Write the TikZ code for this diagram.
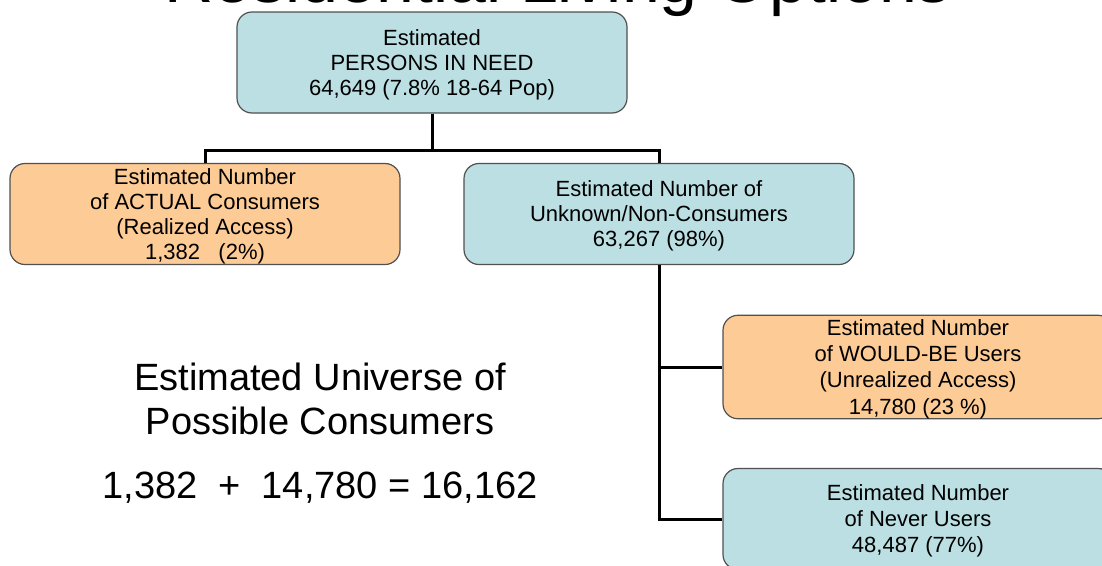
\documentclass[tikz,border=0pt]{standalone}
\usepackage{fontspec}
\setmainfont{Liberation Sans}
\definecolor{teal1}{HTML}{BBDFE2}
\definecolor{orange1}{HTML}{FDCB95}
\definecolor{edge1}{HTML}{505050}
\newcommand{\topstrut}{\rule{0pt}{19.9pt}}
\newcommand{\botstrut}{\rule[-4.7pt]{0pt}{4.7pt}}
\tikzset{
  box/.style={draw=edge1, line width=1.2pt, rounded corners=15pt, minimum width=390pt, minimum height=101pt, align=center, inner sep=0pt, font=\fontsize{22}{25}\selectfont},
  tealbox/.style={box, fill=teal1},
  orangebox/.style={box, fill=orange1},
  conn/.style={line width=3pt, black},
  big/.style={font=\fontsize{38}{44}\selectfont, align=center}
}
\begin{document}
\begin{tikzpicture}[x=1pt, y=-1pt]
\useasboundingbox (0,0) rectangle (1102,565);
\clip (0,0) rectangle (1102,565);
\fill[white] (0,0) rectangle (1102,565);
\node[anchor=base, font=\fontsize{68}{74}\selectfont] (title) at (558,2) {Residential Living Options};
\node[tealbox] (top) at (432,62.5) {\topstrut Estimated\\PERSONS IN NEED\\64,649 (7.8\% 18-64 Pop)\botstrut};
\node[orangebox] (act) at (205,214) {\topstrut Estimated Number\\of ACTUAL Consumers\\(Realized Access)\\1,382 \ \ (2\%)\botstrut};
\node[tealbox] (unk) at (659,214) {\topstrut Estimated Number of\\Unknown/Non-Consumers\\63,267 (98\%)\botstrut};
\node[orangebox, font=\fontsize{22}{26.3}\selectfont] (wb) at (918,367) {\topstrut Estimated Number\\of WOULD-BE Users\\(Unrealized Access)\\14,780 (23 \%)\botstrut};
\node[tealbox, font=\fontsize{22}{26.3}\selectfont] (nv) at (918,519) {\topstrut Estimated Number\\of Never Users\\48,487 (77\%)\botstrut};
\coordinate (j1) at (432,150);
\draw[conn] (top.south) -- (j1);
\draw[conn] (act.north) |- (j1) -| (unk.north);
\draw[conn] (unk.south) |- (wb.west);
\draw[conn] (unk.south) |- (nv.west);
\node[big] (univ) at (320,398.5) {Estimated Universe of\\Possible Consumers};
\node[big] (sum) at (320,488) {1,382 \ + \ 14,780 = 16,162};
\end{tikzpicture}
\end{document}
